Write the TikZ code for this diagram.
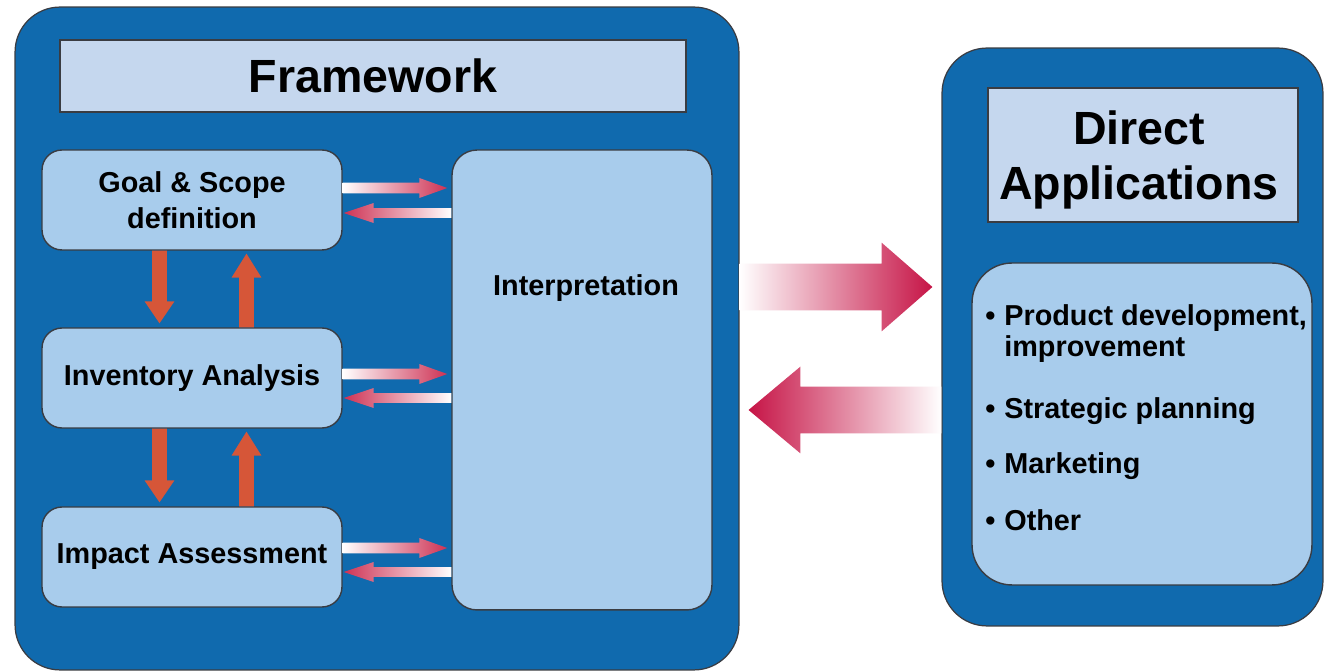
\documentclass[tikz,border=0pt]{standalone}
\usepackage{fontspec}
\setmainfont{Liberation Sans}
\usetikzlibrary{calc}

\definecolor{panelblue}{RGB}{16,106,174}
\definecolor{titlefill}{RGB}{197,215,238}
\definecolor{boxfill}{RGB}{168,204,236}
\definecolor{edgegray}{RGB}{58,60,66}
\definecolor{stepred}{RGB}{214,86,56}
\definecolor{flowred}{RGB}{206,50,84}
\definecolor{bigred}{RGB}{198,20,70}

% Block arrow from #2 (tail) to #3 (tip); #4 half shaft, #5 half head, #6 head length (px)
\newcommand\fatarrow[6]{%
  \path[#1] let \p1=(#2), \p2=(#3),
      \n1={veclen(\x2-\x1,\y2-\y1)},
      \n2={(\x2-\x1)/\n1}, \n3={(\y2-\y1)/\n1},
      \n4={#4*0.5669}, \n5={#5*0.5669}, \n6={#6*0.5669}
    in ({\x1-(\n3)*(\n4)},{\y1+(\n2)*(\n4)})
    -- ({\x2-(\n2)*(\n6)-(\n3)*(\n4)},{\y2-(\n3)*(\n6)+(\n2)*(\n4)})
    -- ({\x2-(\n2)*(\n6)-(\n3)*(\n5)},{\y2-(\n3)*(\n6)+(\n2)*(\n5)})
    -- (\p2)
    -- ({\x2-(\n2)*(\n6)+(\n3)*(\n5)},{\y2-(\n3)*(\n6)-(\n2)*(\n5)})
    -- ({\x2-(\n2)*(\n6)+(\n3)*(\n4)},{\y2-(\n3)*(\n6)-(\n2)*(\n4)})
    -- ({\x1+(\n3)*(\n4)},{\y1-(\n2)*(\n4)})
    -- cycle;}

\tikzset{
  panel/.style={draw=edgegray, line width=0.7pt, fill=panelblue,
    rounded corners=0.9cm, inner sep=0pt},
  titlebox/.style={draw=edgegray, line width=0.8pt, fill=titlefill, inner sep=0pt,
    align=center, font=\fontsize{26.5}{31}\selectfont\bfseries},
  titletext/.style={inner sep=0pt, align=center,
    font=\fontsize{26.5}{31}\selectfont\bfseries},
  stagebox/.style={draw=edgegray, line width=0.8pt, fill=boxfill,
    rounded corners=0.4cm, inner sep=0pt, align=center,
    minimum width=6cm, minimum height=2cm,
    font=\fontsize{16.4}{20.4}\selectfont\bfseries},
  listline/.style={anchor=base west, inner sep=0pt,
    font=\fontsize{16.4}{20}\selectfont\bfseries},
  rightflow/.style={shade, left color=white, right color=flowred},
  leftflow/.style={shade, left color=flowred, right color=white},
  stepflow/.style={fill=stepred},
  bigright/.style={shade, left color=white, right color=bigred},
  bigleft/.style={shade, left color=bigred, right color=white},
}
\newcommand\bul{\makebox[0.38cm][l]{\textbullet}}

\begin{document}
\begin{tikzpicture}[x=0.02cm, y=-0.02cm]
\useasboundingbox[fill=white] (0,0) rectangle (1326,671);

% outer panels
\node[panel, minimum width=14.48cm, minimum height=13.26cm] (fw) at (377,338.5) {};
\node[panel, minimum width=7.62cm, minimum height=11.56cm] (dir) at (1132.5,337) {};

% exchange between framework and applications
\fatarrow{bigright}{$(fw.east)+(0,-51.5)$}{$(fw.east -| dir.west)+(-9,-51.5)$}{23.5}{44.5}{51}
\fatarrow{bigleft}{$(fw.east -| dir.west)+(0,71.5)$}{$(fw.east)+(9,71.5)$}{23.5}{43.5}{52}

% framework contents
\node[titlebox, minimum width=12.52cm, minimum height=1.44cm] (fwtitle) at (373,76) {Framework};
\node[stagebox] (goal) at (192,200) {Goal \& Scope\\definition};
\node[stagebox] (inv) at (192,378) {Inventory Analysis};
\node[stagebox] (imp) at (192,557) {Impact Assessment};
\node[stagebox, minimum width=5.2cm, minimum height=9.2cm, rounded corners=0.5cm] (interp) at (582,380) {};
\node[inner sep=0pt, font=\fontsize{16.4}{20}\selectfont\bfseries] (interplabel) at (586,288) {Interpretation};

% stage to stage steps
\fatarrow{stepflow}{$(goal.south)+(-32.5,0)$}{$(inv.north)+(-32.5,-4)$}{7.5}{15}{22}
\fatarrow{stepflow}{$(inv.north)+(54.5,0)$}{$(goal.south)+(54.5,3)$}{7.5}{15}{24}
\fatarrow{stepflow}{$(inv.south)+(-32.5,0)$}{$(imp.north)+(-32.5,-4)$}{7.5}{15}{22}
\fatarrow{stepflow}{$(imp.north)+(54.5,0)$}{$(inv.south)+(54.5,3)$}{7.5}{15}{24}

% stages to and from interpretation
\fatarrow{rightflow}{$(goal.east)+(0,-12)$}{$(goal.east -| interp.west)+(-4,-12)$}{5.5}{10}{28}
\fatarrow{leftflow}{$(goal.east -| interp.west)+(0,13)$}{$(goal.east)+(1,13)$}{5}{10}{30}
\fatarrow{rightflow}{$(inv.east)+(0,-4)$}{$(inv.east -| interp.west)+(-4,-4)$}{5.5}{10}{28}
\fatarrow{leftflow}{$(inv.east -| interp.west)+(0,20)$}{$(inv.east)+(1,20)$}{5}{10}{30}
\fatarrow{rightflow}{$(imp.east)+(0,-9)$}{$(imp.east -| interp.west)+(-4,-9)$}{5.5}{10}{28}
\fatarrow{leftflow}{$(imp.east -| interp.west)+(0,15)$}{$(imp.east)+(1,15)$}{5}{10}{30}

% applications
\node[titlebox, minimum width=6.2cm, minimum height=2.68cm] (dirtitle) at (1143,155) {};
\node[titletext] (dirlabel) at (1139,160) {Direct\\Applications};
\node[stagebox, minimum width=6.8cm, minimum height=6.44cm, rounded corners=0.8cm] (apps) at (1142,424) {};
\node[listline] (item1) at (985,326) {\bul Product development,};
\node[listline] (item1b) at (1004,357) {improvement};
\node[listline] (item2) at (985,419) {\bul Strategic planning};
\node[listline] (item3) at (985,474) {\bul Marketing};
\node[listline] (item4) at (985,531) {\bul Other};
\end{tikzpicture}
\end{document}
